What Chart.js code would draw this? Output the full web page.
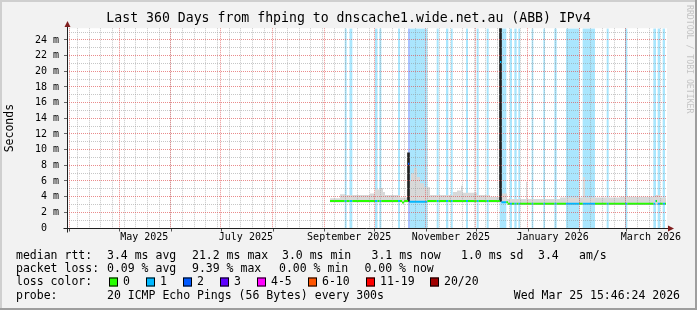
<!DOCTYPE html>
<html><head><meta charset="utf-8">
<script src="https://cdn.jsdelivr.net/npm/chart.js@4.4.1/dist/chart.umd.min.js"></script>
<style>
html,body{margin:0;padding:0;background:#f2f2f2;}
canvas{display:block;}
</style></head><body>
<canvas id="c" width="697" height="310"></canvas>
<script>
// ================= DATA =================
const titleText = 'Last 360 Days from fhping to dnscache1.wide.net.au (ABB) IPv4';
const periodDays = 360;                 // x axis: days since Sun 30 Mar 2025 15:46
const yMax = 25.5;                      // ms
const yMajorTicks = [0,2,4,6,8,10,12,14,16,18,20,22,24];
const yMinorTicks = [1,3,5,7,9,11,13,15,17,19,21,23,25];
const xTickLabels = ['May 2025','July 2025','September 2025','November 2025','January 2026','March 2026'];
const xLabelMonths = [[2025,4],[2025,6],[2025,8],[2025,10],[2026,0],[2026,2]];

// packet loss periods (days) and number of lost pings
const lossStart = [166.5,169.5,184.8,187.4,198.6,204.6,205.8,221.8,227.4,230.4,239.4,245.8,251.8,259.6,265.8,268.4,270.8,278.8,285.8,292.4,299.4,309.4,323.8,334.8,351.8,354.4,357.4];
const lossEnd   = [167.8,171.2,186.3,188.6,199.8,205.8,216.2,223.0,228.8,231.4,240.6,247.0,253.0,263.6,267.0,269.8,271.8,279.8,286.8,293.8,307.2,316.8,325.0,336.2,353.4,355.8,358.8];
const lossCount = [1,1,1,1,1,2,1,1,1,1,1,1,1,1,1,1,1,1,1,1,1,1,1,1,1,1,1];

// median rtt (ms), step series: value i holds from medianDays[i] to medianDays[i+1]
const medianDays = [157.8,201.0,202.2,204.6,205.4,216.0,259.8,260.6,264.6,353.0,354.0,359.4];
const medianVals = [3.45,3.25,3.45,8.2,3.35,3.45,21.2,3.3,3.1,3.45,3.1];

// smoke (min..max of pings, ms), step series
const smokeDays = [157.8,163.8,166.8,181.8,184.8,187.8,189.6,190.8,199.8,204.6,205.4,206.4,208.2,210.0,211.8,214.2,217.8,231.6,234.0,236.4,237.3,246.0,253.8,259.8,260.6,264.0,275.4,276.0,295.8,309.6,310.8,331.8,352.8,355.8,359.4];
const smokeHigh = [3.8,4.3,4.2,4.4,4.9,5.1,4.6,4.2,3.9,9.6,6.0,7.0,7.7,6.5,5.7,5.2,4.2,4.6,4.8,5.4,4.5,4.2,4.0,27,4.4,3.7,5.9,3.7,3.9,6.5,3.9,4.0,4.2,3.9];
const smokeLow  = [3.25,3.25,3.25,3.25,3.25,3.25,3.25,3.25,3.25,3.3,3.25,3.25,3.25,3.25,3.25,3.25,3.25,3.25,3.25,3.25,3.25,3.25,3.25,3.3,3.2,2.95,2.95,2.95,2.95,2.95,2.95,2.95,2.95,2.95];

// dense smoke columns
const spikeDays = [204.9, 260.1];
const spikeLow  = [3.4, 3.4];
const spikeHigh = [9.6, 27];

// legend
const lossLabels = ['0','1','2','3','4-5','6-10','11-19','20/20'];
const lossColors = ['#26ff00','#00b8ff','#0059ff','#5e00ff','#ff00fe','#ff5500','#ff0000','#a10000'];
const lossBgColors = ['#ffffff','#aae6fd','#aac2ff'];
const medianStats = ['3.4 ms avg','21.2 ms max','3.0 ms min','3.1 ms now','1.0 ms sd','3.4','am/s'];
const lossStats = ['0.09 % avg','9.39 % max','0.00 % min','0.00 % now'];
const probeText = '20 ICMP Echo Pings (56 Bytes) every 300s';
const stampText = 'Wed Mar 25 15:46:24 2026';

// ================= BUILD =================
const DAY = 864e5;
const START = Date.UTC(2025, 2, 30, 15, 46);
const dayOf = (y, m, d) => (Date.UTC(y, m, d) - START) / DAY;

const weekTicks = [];
for (let k = 0; ; k++) { const v = dayOf(2025, 3, 6) + 7 * k; if (v > periodDays) break; weekTicks.push(v); }
const monthTicks = [];
for (let i = 0; i < 12; i++) { const v = dayOf(2025, 3 + i, 1); if (v >= 0 && v <= periodDays) monthTicks.push(v); }
const labelTicks = xLabelMonths.map(ym => dayOf(ym[0], ym[1], 1) + 15);

function bandData(level) {
  const out = [];
  lossStart.forEach((s, i) => {
    if (lossCount[i] !== level) return;
    out.push({x: s, y: yMax}, {x: lossEnd[i], y: 0});
  });
  return out;
}
function stepData(days, vals) {
  const out = vals.map((v, i) => ({x: days[i], y: v}));
  out.push({x: days[days.length - 1], y: vals[vals.length - 1]});
  return out;
}
function lossAt(d) {
  for (let i = 0; i < lossStart.length; i++) if (d >= lossStart[i] && d < lossEnd[i]) return lossCount[i];
  return 0;
}
function medAt(d) {
  for (let i = 0; i < medianDays.length - 1; i++) if (d >= medianDays[i] && d < medianDays[i + 1]) return medianVals[i];
  return null;
}
const d0 = medianDays[0], d1 = medianDays[medianDays.length - 1];
const bps = [...new Set([...medianDays, ...lossStart, ...lossEnd])].filter(d => d >= d0 && d <= d1).sort((a, b) => a - b);
const segs = [];
for (let i = 0; i < bps.length - 1; i++) { const m = (bps[i] + bps[i + 1]) / 2; segs.push({a: bps[i], b: bps[i + 1], v: medAt(m), loss: lossAt(m)}); }
const medByLoss = {};
segs.forEach((s, i) => {
  const arr = medByLoss[s.loss] = medByLoss[s.loss] || [];
  const prev = segs[i - 1];
  if (!(prev && prev.loss === s.loss && prev.v === s.v) && arr.length) arr.push({x: s.a, y: null});
  arr.push({x: s.a, y: s.v}, {x: s.b, y: s.v});
});

const datasets = [
  {type: 'line', data: bandData(1), stepped: true, fill: 'origin', backgroundColor: lossBgColors[1], borderColor: 'transparent', borderWidth: 0, pointRadius: 0, order: 10},
  {type: 'line', data: bandData(2), stepped: true, fill: 'origin', backgroundColor: lossBgColors[2], borderColor: 'transparent', borderWidth: 0, pointRadius: 0, order: 10},
  {type: 'line', data: stepData(smokeDays, smokeLow), stepped: true, fill: false, borderColor: 'transparent', borderWidth: 0, pointRadius: 0, order: 8},
  {type: 'line', data: stepData(smokeDays, smokeHigh), stepped: true, fill: {target: 2}, backgroundColor: '#d8d8d8', borderColor: 'transparent', borderWidth: 0, pointRadius: 0, order: 8},
  {type: 'bar', data: spikeDays.map((d, i) => ({x: d, y: [spikeLow[i], spikeHigh[i]]})), backgroundColor: '#202020', barThickness: 2, order: 6}
];
Object.keys(medByLoss).forEach(l => {
  datasets.push({type: 'line', data: medByLoss[l], borderColor: lossColors[l], borderWidth: 2, borderCapStyle: 'butt', pointRadius: 0, spanGaps: false, fill: false, order: 1});
});

// ================= PLUGINS =================
const frame = {
  id: 'frame',
  beforeDraw(chart) {
    const {ctx, chartArea: a, width: W, height: H} = chart;
    ctx.save();
    ctx.fillStyle = '#f2f2f2'; ctx.fillRect(0, 0, W, H);
    ctx.fillStyle = '#ffffff'; ctx.fillRect(a.left, a.top, a.right - a.left, a.bottom - a.top);
    ctx.fillStyle = '#cfcfcf'; ctx.fillRect(0, 0, W, 2); ctx.fillRect(0, 0, 2, H);
    ctx.fillStyle = '#9e9e9e'; ctx.fillRect(0, H - 2, W, 2); ctx.fillRect(W - 2, 0, 2, H);
    ctx.restore();
  },
  afterDraw(chart) {
    const {ctx} = chart;
    const xs = chart.scales.x, ys = chart.scales.y;
    const x0 = Math.round(xs.getPixelForValue(0)) + 0.5;
    const xe = Math.round(xs.getPixelForValue(periodDays));
    const y0 = Math.round(ys.getPixelForValue(0)) + 0.5;
    const yt = Math.round(ys.getPixelForValue(yMax));
    ctx.save();
    // month tick marks below the axis
    ctx.strokeStyle = '#555'; ctx.lineWidth = 1;
    monthTicks.forEach(v => { const px = Math.round(xs.getPixelForValue(v)) + 0.5; ctx.beginPath(); ctx.moveTo(px, y0); ctx.lineTo(px, y0 + 3); ctx.stroke(); });
    ctx.strokeStyle = '#1f1f1f'; ctx.lineWidth = 1;
    ctx.beginPath(); ctx.moveTo(x0 - 4, y0); ctx.lineTo(xe + 3, y0); ctx.stroke();
    ctx.beginPath(); ctx.moveTo(x0, y0 + 4); ctx.lineTo(x0, yt - 4); ctx.stroke();
    ctx.fillStyle = '#801f1f';
    ctx.beginPath(); ctx.moveTo(xe + 1, y0 - 3); ctx.lineTo(xe + 7, y0); ctx.lineTo(xe + 1, y0 + 3); ctx.closePath(); ctx.fill();
    ctx.beginPath(); ctx.moveTo(x0 - 3, yt - 1); ctx.lineTo(x0, yt - 7); ctx.lineTo(x0 + 3, yt - 1); ctx.closePath(); ctx.fill();

    // watermark
    ctx.fillStyle = '#c4c4c4';
    ctx.font = '8.2px "DejaVu Sans Mono"';
    ctx.textBaseline = 'middle'; ctx.textAlign = 'left';
    ctx.translate(689, 5); ctx.rotate(Math.PI / 2);
    ctx.fillText('RRDTOOL / TOBI OETIKER', 0, 0);
    ctx.restore();

    // legend
    ctx.save();
    ctx.fillStyle = '#000';
    ctx.font = '11.5px "DejaVu Sans Mono"';
    ctx.textBaseline = 'middle'; ctx.textAlign = 'left';
    const r1 = 256, r2 = 269, r3 = 282, r4 = 296;
    ctx.fillText('median rtt:', 16, r1);
    [107, 192, 282, 371.5, 461, 538, 579].forEach((x, i) => ctx.fillText(medianStats[i], x, r1));
    ctx.fillText('packet loss:', 16, r2);
    [107, 192, 279, 364.5].forEach((x, i) => ctx.fillText(lossStats[i], x, r2));
    ctx.fillText('loss color:', 16, r3);
    [109, 146, 183, 220, 257, 308, 366, 430].forEach((x, i) => {
      ctx.fillStyle = lossColors[i]; ctx.fillRect(x, r3 - 4.5, 9, 9);
      ctx.strokeStyle = '#000'; ctx.lineWidth = 1; ctx.strokeRect(x + 0.5, r3 - 4, 8, 8);
      ctx.fillStyle = '#000'; ctx.fillText(lossLabels[i], x + 14, r3);
    });
    ctx.fillText('probe:', 16, r4);
    ctx.fillText(probeText, 107, r4);
    ctx.textAlign = 'right';
    ctx.fillText(stampText, 680, r4);
    ctx.restore();
  }
};

// ================= CHART =================
Chart.defaults.font.family = '"DejaVu Sans Mono"';
Chart.defaults.color = '#000';
const MAJ = 'rgba(222,79,79,0.65)', MIN = 'rgba(143,143,143,0.5)';

function gridScale(axis, position, values, color, fitKey) {
  return {
    type: 'linear', axis, position, display: true, offset: false,
    min: 0, max: axis === 'x' ? periodDays : yMax, bounds: 'data',
    afterBuildTicks: s => { s.ticks = values.map(v => ({value: v})); },
    afterFit: s => { s[fitKey] = 0; },
    ticks: {display: false},
    grid: {z: 1, color, lineWidth: 1, drawTicks: false, offset: false},
    border: {display: false, dash: [1, 1]}
  };
}

new Chart(document.getElementById('c'), {
  type: 'line',
  data: {datasets},
  options: {
    responsive: false, animation: false, devicePixelRatio: 1, events: [],
    layout: {padding: 0},
    plugins: {
      legend: {display: false}, tooltip: {enabled: false},
      title: {display: true, text: titleText, color: '#000', font: {size: 13.2, weight: 'normal'}, padding: {top: 11, bottom: 1.4}}
    },
    scales: {
      x: {
        type: 'linear', position: 'bottom', min: 0, max: periodDays, bounds: 'data', offset: false,
        afterBuildTicks: s => { s.ticks = labelTicks.map(v => ({value: v})); },
        afterFit: s => { s.height = 82; },
        ticks: {autoSkip: false, maxRotation: 0, minRotation: 0, padding: 3, font: {size: 10},
          callback: (v, i) => xTickLabels[i]},
        grid: {display: true, drawOnChartArea: false, drawTicks: false, offset: false},
        border: {display: false}
      },
      xWeek: gridScale('x', 'bottom', weekTicks, MIN, 'height'),
      xMonth: gridScale('x', 'bottom', monthTicks, MAJ, 'height'),
      y: {
        type: 'linear', position: 'left', min: 0, max: yMax, bounds: 'data', offset: false,
        afterBuildTicks: s => { s.ticks = yMajorTicks.map(v => ({value: v})); },
        afterFit: s => { s.width = 67; },
        ticks: {autoSkip: false, padding: 5, font: {size: 10},
          callback: v => v === 0 ? '0  ' : v + ' m'},
        grid: {z: 1, color: MAJ, lineWidth: 1, tickLength: 3, tickColor: '#666', offset: false},
        border: {display: false, dash: [1, 1]},
        title: {display: true, text: 'Seconds', font: {size: 11.5}, color: '#000', padding: {top: 3, bottom: 0}}
      },
      yMinor: gridScale('y', 'left', yMinorTicks, MIN, 'width'),
      y2: {
        type: 'linear', position: 'right', display: true,
        ticks: {display: false}, grid: {display: false}, border: {display: false},
        afterFit: s => { s.width = 30; }
      }
    }
  },
  plugins: [frame]
});
</script>
</body></html>
